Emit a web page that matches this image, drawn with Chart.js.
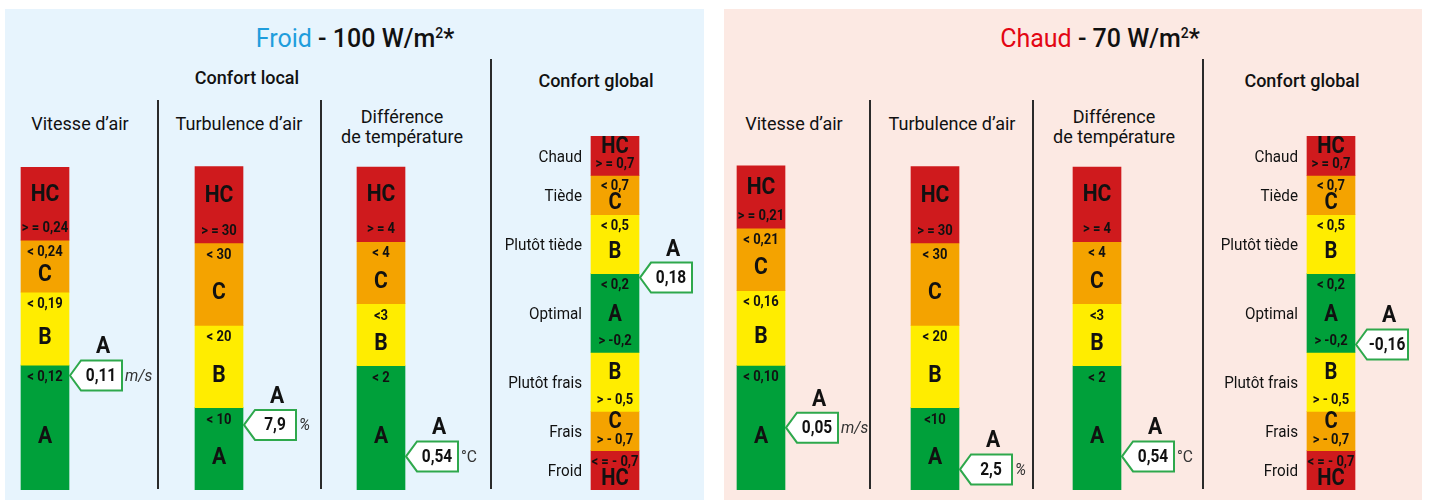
<!DOCTYPE html>
<html lang="fr">
<head>
<meta charset="utf-8">
<title>Confort local / global</title>
<script src="https://cdn.jsdelivr.net/npm/chart.js@4.4.1/dist/chart.umd.min.js"></script>
<style>
  html, body { margin: 0; padding: 0; background: #fff; }
  body { width: 1429px; height: 500px; position: relative; overflow: hidden; font-family: Roboto, "Liberation Sans", Arial, sans-serif; color: #111; }
  .panel { position: absolute; top: 9px; height: 491px; }
  .txt { position: absolute; transform: translate(-50%, -50%); white-space: nowrap; }
  .titre { font-size: 25px; font-weight: 500; }
  .titre sup { font-size: 14px; vertical-align: 9px; line-height: 0; }
  .groupe { font-size: 18px; font-weight: 500; }
  .entete { font-size: 18px; text-align: center; line-height: 20px; }
  .sep { position: absolute; width: 2px; background: #2a2a2a; }
  canvas { position: absolute; top: 9px; }
</style>
</head>
<body>

<div class="panel" style="left:5px;width:699px;background:#e7f4fd"></div>
<div class="panel" style="left:724px;width:698px;background:#fce9e3"></div>

<div class="txt titre" style="left:355px;top:38px"><span style="color:#1f9ddc;font-weight:400">Froid</span> - 100 W/m<sup>2</sup>*</div>
<div class="txt titre" style="left:1100px;top:38px"><span style="color:#e30613;font-weight:400">Chaud</span> - 70 W/m<sup>2</sup>*</div>

<div class="txt groupe" style="left:247px;top:77px">Confort local</div>
<div class="txt groupe" style="left:596px;top:80px">Confort global</div>
<div class="txt groupe" style="left:1302px;top:80px">Confort global</div>

<div class="txt entete" style="left:80px;top:124px">Vitesse d’air</div>
<div class="txt entete" style="left:239px;top:124px">Turbulence d’air</div>
<div class="txt entete" style="left:402px;top:127px">Différence<br>de température</div>
<div class="txt entete" style="left:794px;top:124px">Vitesse d’air</div>
<div class="txt entete" style="left:952px;top:124px">Turbulence d’air</div>
<div class="txt entete" style="left:1114px;top:127px">Différence<br>de température</div>

<div class="sep" style="left:157px;top:100px;height:389px"></div>
<div class="sep" style="left:320px;top:100px;height:389px"></div>
<div class="sep" style="left:490px;top:59px;height:430px"></div>
<div class="sep" style="left:869px;top:100px;height:389px"></div>
<div class="sep" style="left:1032px;top:100px;height:389px"></div>
<div class="sep" style="left:1202px;top:59px;height:430px"></div>

<canvas id="chart-froid" width="699" height="491" style="left:5px"></canvas>
<canvas id="chart-chaud" width="699" height="491" style="left:721px"></canvas>

<script>
// couleurs des classes
const classColors = { A: '#00a03a', B: '#ffed00', C: '#f4a300', HC: '#cf1a1d' };
const localClasses = ['A', 'B', 'C', 'HC'];
const unites = ['m/s', '%', '°C', ''];

// Froid - 100 W/m2
const froidVitesseBornes = [0, 0.12, 0.19, 0.24, 0.31];
const froidVitesseSeuils = ['< 0,12', '< 0,19', '< 0,24', '> = 0,24'];
const froidTurbulenceBornes = [0, 10, 20, 30, 39.3];
const froidTurbulenceSeuils = ['< 10', '< 20', '< 30', '> = 30'];
const froidTemperatureBornes = [0, 2, 3, 4, 5.2];
const froidTemperatureSeuils = ['< 2', '<3', '< 4', '> = 4'];
const froidValeurs = [0.11, 7.9, 0.54, 0.18];
const froidClasses = ['A', 'A', 'A', 'A'];

// Chaud - 70 W/m2
const chaudVitesseBornes = [0, 0.10, 0.16, 0.21, 0.26];
const chaudVitesseSeuils = ['< 0,10', '< 0,16', '< 0,21', '> = 0,21'];
const chaudTurbulenceBornes = [0, 10, 20, 30, 39.3];
const chaudTurbulenceSeuils = ['<10', '< 20', '< 30', '> = 30'];
const chaudTemperatureBornes = [0, 2, 3, 4, 5.2];
const chaudTemperatureSeuils = ['< 2', '<3', '< 4', '> = 4'];
const chaudValeurs = [0.05, 2.5, 0.54, -0.16];
const chaudClasses = ['A', 'A', 'A', 'A'];

// confort global (meme echelle pour les deux cas)
const globalBornes = [-0.9, -0.7, -0.5, -0.2, 0.2, 0.5, 0.7, 0.9];
const globalNiveaux = ['Froid', 'Frais', 'Plutôt frais', 'Optimal', 'Plutôt tiède', 'Tiède', 'Chaud'];
const globalClasses = ['HC', 'C', 'B', 'A', 'B', 'C', 'HC'];
const globalSeuils = [['< = - 0,7'], ['> - 0,7'], ['> - 0,5'], ['< 0,2', '> -0,2'], ['< 0,5'], ['< 0,7'], ['> = 0,7']];

// layout
const colX = [40, 214, 376, 610];
const FONT = 'Roboto, "Liberation Sans", Arial, sans-serif';

function colonne(i, bornes, classes, seuils, niveaux) {
  return {
    type: 'bar',
    yAxisID: 'y' + i,
    data: classes.map((c, k) => ({ x: colX[i], y: [bornes[k], bornes[k + 1]] })),
    backgroundColor: classes.map(c => classColors[c]),
    borderWidth: 0,
    barThickness: 48,
    grouped: false,
    classes: classes,
    seuils: seuils,
    niveaux: niveaux || null,
    global: !!niveaux
  };
}

function fmt(v) {
  return String(v).replace('.', ',');
}

// texte etroit (police condensee simulee)
function texte(ctx, t, x, y, font, sx) {
  ctx.save();
  ctx.font = font;
  ctx.translate(x, y);
  ctx.scale(sx, 1);
  ctx.fillText(t, 0, 0);
  ctx.restore();
}

const etiquettesPlugin = {
  id: 'etiquettes',
  afterDatasetsDraw(chart) {
    const ctx = chart.ctx;
    const valeurs = chart.options.plugins.etiquettes.valeurs;
    const notes = chart.options.plugins.etiquettes.notes;
    ctx.save();
    ctx.textAlign = 'center';
    ctx.textBaseline = 'middle';
    ctx.fillStyle = '#111';
    chart.data.datasets.forEach((ds, i) => {
      const meta = chart.getDatasetMeta(i);
      let barRight = 0;
      meta.data.forEach((bar, k) => {
        const top = Math.min(bar.y, bar.base);
        const bottom = Math.max(bar.y, bar.base);
        barRight = bar.x + bar.width / 2;
        const s = [].concat(ds.seuils[k]);
        const off = ds.global ? 11 : 12;
        let yTop = null, yBot = null;
        s.forEach(t => {
          if (t.charAt(0) === '<') yTop = top + off;
          else yBot = bottom - off;
          texte(ctx, t, bar.x, t.charAt(0) === '<' ? yTop : yBot, 'bold 15.5px ' + FONT, 0.84);
        });
        let yl;
        if (yTop !== null && yBot !== null) yl = (top + bottom) / 2 + 2;
        else if (yTop !== null) yl = (yTop + 6 + bottom) / 2;
        else yl = (top + yBot - 6) / 2;
        texte(ctx, ds.classes[k], bar.x, yl, 'bold ' + (ds.global ? 23 : 24) + 'px ' + FONT, 0.88);
        if (ds.niveaux) {
          ctx.textAlign = 'right';
          texte(ctx, ds.niveaux[k], bar.x - bar.width / 2 - 9, (top + bottom) / 2 + 2, '16px ' + FONT, 0.95);
          ctx.textAlign = 'center';
        }
      });

      // marqueur de valeur
      const v = valeurs[i];
      const y = chart.scales['y' + i].getPixelForValue(v);
      const xt = barRight + 1;
      ctx.beginPath();
      ctx.moveTo(xt, y);
      ctx.lineTo(xt + 11, y - 15);
      ctx.lineTo(xt + 52, y - 15);
      ctx.lineTo(xt + 52, y + 15);
      ctx.lineTo(xt + 11, y + 15);
      ctx.closePath();
      ctx.fillStyle = '#fff';
      ctx.fill();
      ctx.lineWidth = 2;
      ctx.strokeStyle = '#2ea84c';
      ctx.stroke();
      ctx.fillStyle = '#111';
      texte(ctx, fmt(v), xt + 31, y + 1, 'bold 18px ' + FONT, 0.86);
      texte(ctx, notes[i], xt + 33, y - 28, 'bold 24px ' + FONT, 0.88);
      if (unites[i]) {
        ctx.textAlign = 'left';
        ctx.fillStyle = '#333';
        texte(ctx, unites[i], xt + 55, y + 1, (i === 2 ? '' : 'italic ') + '17px ' + FONT, 0.92);
        ctx.fillStyle = '#111';
        ctx.textAlign = 'center';
      }
    });
    ctx.restore();
  }
};

function echelles(maxVitesse) {
  const hidden = { display: false, axis: 'y', grid: { display: false } };
  return {
    x: { type: 'linear', min: 0, max: 699, offset: false, display: false },
    y0: Object.assign({ min: 0, max: maxVitesse }, hidden),
    y1: Object.assign({ min: 0, max: 43 }, hidden),
    y2: Object.assign({ min: 0, max: 5.7 }, hidden),
    y3: Object.assign({ min: -0.9, max: 0.9 }, hidden)
  };
}

function panneau(id, datasets, valeurs, notes, maxVitesse) {
  return new Chart(document.getElementById(id).getContext('2d'), {
    type: 'bar',
    data: { datasets: datasets },
    options: {
      responsive: false,
      animation: false,
      events: [],
      layout: { padding: { top: 127, bottom: 10, left: 0, right: 0 } },
      plugins: {
        legend: { display: false },
        tooltip: { enabled: false },
        etiquettes: { valeurs: valeurs, notes: notes }
      },
      scales: echelles(maxVitesse)
    },
    plugins: [etiquettesPlugin]
  });
}

panneau('chart-froid', [
  colonne(0, froidVitesseBornes, localClasses, froidVitesseSeuils),
  colonne(1, froidTurbulenceBornes, localClasses, froidTurbulenceSeuils),
  colonne(2, froidTemperatureBornes, localClasses, froidTemperatureSeuils),
  colonne(3, globalBornes, globalClasses, globalSeuils, globalNiveaux)
], froidValeurs, froidClasses, 0.34);

panneau('chart-chaud', [
  colonne(0, chaudVitesseBornes, localClasses, chaudVitesseSeuils),
  colonne(1, chaudTurbulenceBornes, localClasses, chaudTurbulenceSeuils),
  colonne(2, chaudTemperatureBornes, localClasses, chaudTemperatureSeuils),
  colonne(3, globalBornes, globalClasses, globalSeuils, globalNiveaux)
], chaudValeurs, chaudClasses, 0.284);
</script>
</body>
</html>
